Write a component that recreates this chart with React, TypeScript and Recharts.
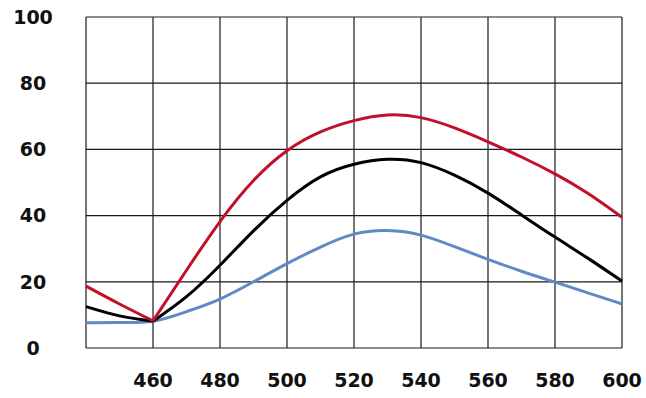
import { CartesianGrid, Line, LineChart, XAxis, YAxis } from "recharts";

const WAVELENGTH = [440, 450, 460, 470, 480, 490, 500, 510, 520, 530, 540, 550, 560, 570, 580, 590, 600];
const RED = [18.7, 13.3, 8.2, 23.5, 38.2, 50.6, 59.6, 65.3, 68.7, 70.4, 69.6, 66.5, 62.3, 57.7, 52.6, 46.6, 39.5];
const BLACK = [12.5, 9.7, 8.1, 15.5, 25, 35.4, 44.6, 51.7, 55.5, 57, 56, 52.2, 46.8, 40.2, 33.5, 27, 20.2];
const BLUE = [7.6, 7.7, 8.1, 11, 14.8, 20, 25.5, 30.5, 34.4, 35.5, 34.1, 30.6, 26.8, 23.2, 19.9, 16.6, 13.3];

const X_TICKS = [440, 460, 480, 500, 520, 540, 560, 580, 600];
const Y_TICKS = [0, 20, 40, 60, 80, 100];

// the red and black curves have a kink at 460, so each is drawn as two pieces
const KINK = 460;

const rows = WAVELENGTH.map((nm, i) => ({
  nm,
  redA: nm <= KINK ? RED[i] : null,
  redB: nm >= KINK ? RED[i] : null,
  blackA: nm <= KINK ? BLACK[i] : null,
  blackB: nm >= KINK ? BLACK[i] : null,
  blue: BLUE[i],
}));

const labelStyle = {
  fontFamily: "DejaVu Sans",
  fontWeight: 700,
  fontSize: 19,
  fill: "#111",
};

function YTick({ y, payload }: any) {
  return (
    <text x={33} y={y} dy="0.36em" textAnchor="middle" style={labelStyle}>
      {payload.value}
    </text>
  );
}

export default function App() {
  return (
    <div style={{ position: "absolute", left: 0, top: 0, background: "#fff" }}>
      <LineChart width={646} height={398} data={rows} margin={{ top: 17, right: 24, bottom: 0, left: 0 }}>
        <CartesianGrid stroke="#1a1a1a" strokeWidth={1.2} />
        <XAxis
          dataKey="nm"
          type="number"
          domain={[440, 600]}
          ticks={X_TICKS}
          height={50}
          axisLine={false}
          tickLine={false}
          tickSize={0}
          tickMargin={26}
          tickFormatter={(v: number) => (v === 440 ? "" : String(v))}
          tick={labelStyle}
        />
        <YAxis
          domain={[0, 100]}
          ticks={Y_TICKS}
          width={86}
          axisLine={false}
          tickLine={false}
          tick={<YTick />}
        />
        <Line dataKey="blue" type="natural" stroke="#5f8ac4" strokeWidth={3} dot={false} isAnimationActive={false} />
        <Line dataKey="blackA" type="natural" stroke="#000" strokeWidth={3} dot={false} isAnimationActive={false} />
        <Line dataKey="blackB" type="natural" stroke="#000" strokeWidth={3} dot={false} isAnimationActive={false} />
        <Line dataKey="redA" type="natural" stroke="#c0102a" strokeWidth={3} dot={false} isAnimationActive={false} />
        <Line dataKey="redB" type="natural" stroke="#c0102a" strokeWidth={3} dot={false} isAnimationActive={false} />
      </LineChart>
    </div>
  );
}
